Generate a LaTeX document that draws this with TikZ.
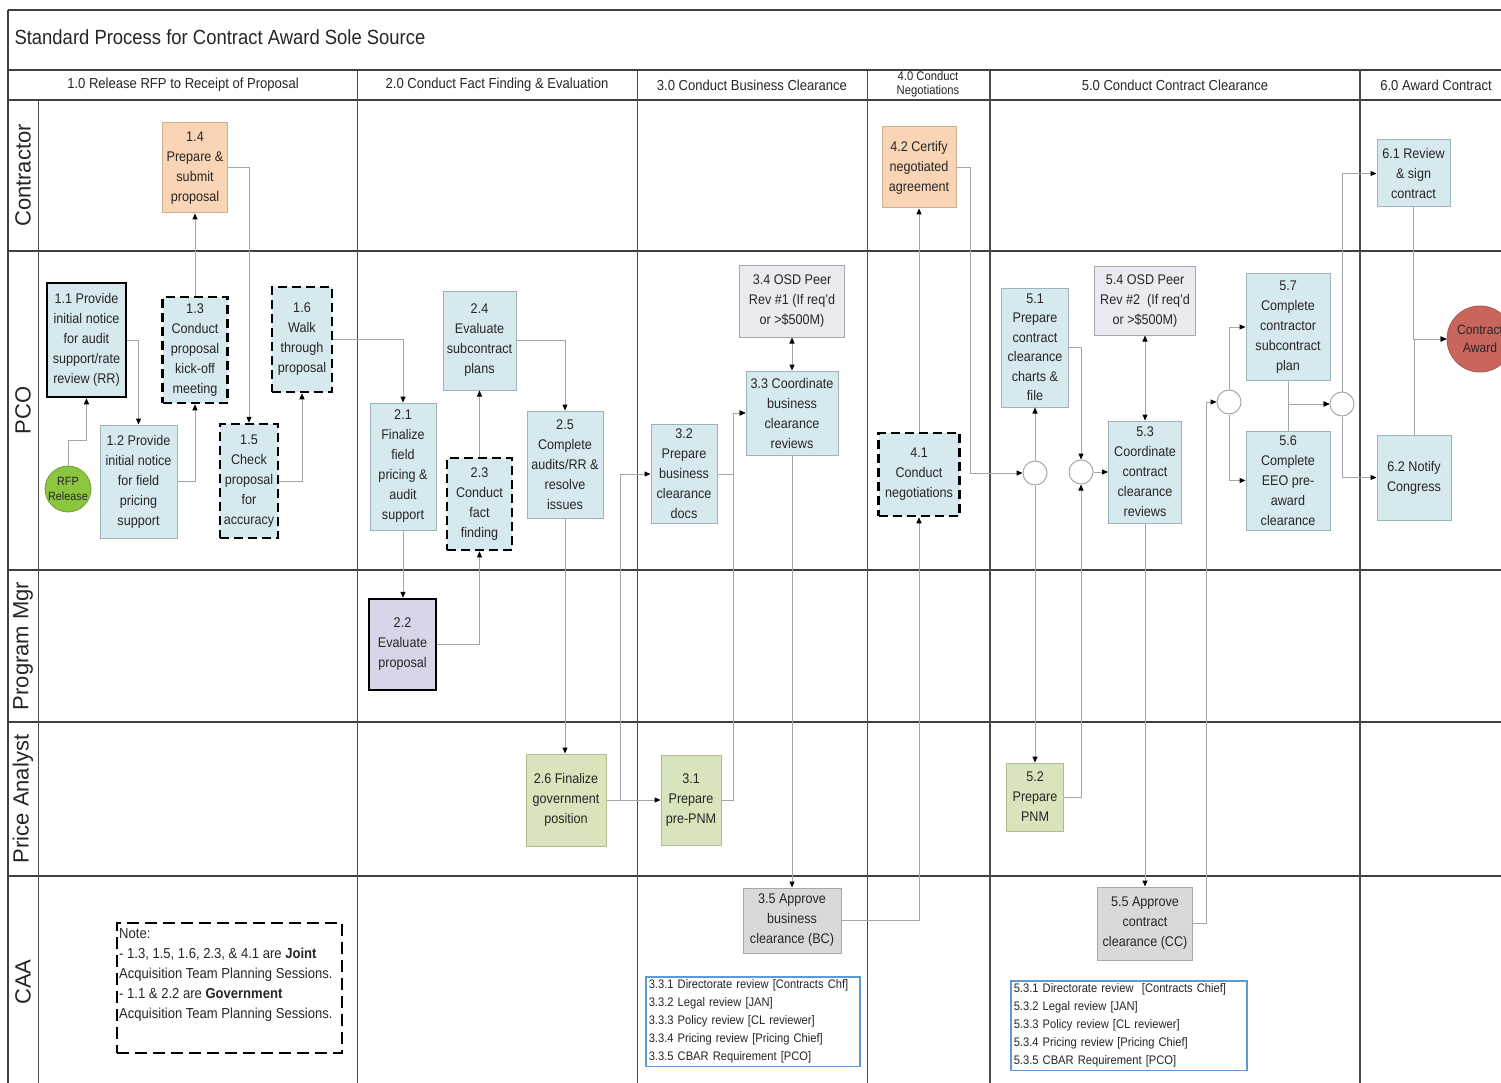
\documentclass[tikz,border=0pt]{standalone}
\usepackage{fontspec}
\setmainfont[FakeStretch=0.9]{Liberation Sans}
\newfontfamily\lanefont{Liberation Sans}
\usetikzlibrary{arrows.meta}
\definecolor{cblue}{HTML}{D6E9EF}
\definecolor{cblueb}{HTML}{9DB4BC}
\definecolor{corange}{HTML}{F9D4B5}
\definecolor{corangeb}{HTML}{D0AE90}
\definecolor{cgreen}{HTML}{D8E4BC}
\definecolor{cgreenb}{HTML}{AEBC90}
\definecolor{clav}{HTML}{DAD4E8}
\definecolor{cpeer}{HTML}{E9EBF1}
\definecolor{cgrayb}{HTML}{A8A8A8}
\definecolor{capprove}{HTML}{D9D9D9}
\definecolor{crfp}{HTML}{8CC63F}
\definecolor{caward}{HTML}{C9665C}
\definecolor{cline}{HTML}{A6A6A6}
\definecolor{clist}{HTML}{5B9BD5}
\definecolor{ctext}{HTML}{262626}
\newcommand\boxfont{\fontsize{14}{20}\selectfont}
\newcommand\listfont{\fontsize{12.4}{18}\selectfont}
\tikzset{
  sz/.style 2 args={minimum width=#1pt, minimum height=#2pt},
  base/.style={rectangle, align=center, font=\boxfont, inner sep=0.5pt, text=ctext},
  bluebox/.style={base, fill=cblue, draw=cblueb, line width=1pt},
  thickbox/.style={base, fill=cblue, draw=black, line width=2.5pt},
  dashbox/.style={base, fill=cblue, draw=black, line width=2.5pt, dash pattern=on 9pt off 5pt},
  orangebox/.style={base, fill=corange, draw=corangeb, line width=1pt},
  greenbox/.style={base, fill=cgreen, draw=cgreenb, line width=1pt},
  lavbox/.style={base, fill=clav, draw=black, line width=2.5pt},
  peerbox/.style={base, fill=cpeer, draw=cgrayb, line width=1pt},
  approvebox/.style={base, fill=capprove, draw=cgrayb, line width=1pt},
  gate/.style={circle, draw=cgrayb, fill=white, minimum size=24pt, inner sep=0pt, line width=1pt},
  listbox/.style={rectangle, draw=clist, fill=white, line width=1.5pt, align=left, font=\listfont, text=ctext, inner sep=3pt, anchor=north west},
  conn/.style={draw=cline, line width=1pt, -{Triangle[length=6pt,width=5pt,color=black]}},
  bidir/.style={draw=cline, line width=1pt, {Triangle[length=6pt,width=5pt,color=black]}-{Triangle[length=6pt,width=5pt,color=black]}},
  lanerule/.style={draw=black!75, line width=1.6pt},
  colrule/.style={draw=black!70, line width=1pt},
  lanelbl/.style={rotate=90, font=\lanefont\fontsize{22}{24}\selectfont, text=ctext},
  hdr/.style={font=\fontsize{14.5}{16}\selectfont, text=ctext},
}
\begin{document}
\begin{tikzpicture}[x=1pt,y=-1pt]
\useasboundingbox (0,0) rectangle (1501,1083);
\clip (0,0) rectangle (1501,1083);
\fill[white] (0,0) rectangle (1501,1083);
% ---------- grid ----------
\draw[lanerule] (8,10) -- (1510,10);
\draw[lanerule] (8,10) -- (8,1090);
\draw[lanerule] (8,70) -- (1510,70);
\draw[lanerule] (8,100) -- (1510,100);
\foreach \yy in {251,570,722,876} \draw[lanerule] (8,\yy) -- (1510,\yy);
\draw[colrule] (38,100) -- (38,1090);
\foreach \xx in {357,637,867} \draw[colrule] (\xx,70) -- (\xx,1090);
\foreach \xx in {990,1360} \draw[colrule, line width=1.5pt] (\xx,70) -- (\xx,1090);
% ---------- title and headers ----------
\node[anchor=west, font=\fontsize{20.5}{24}\selectfont, text=ctext] (title) at (11,37) {Standard Process for Contract Award Sole Source};
\node[hdr] (h1) at (183,85) {1.0 Release RFP to Receipt of Proposal};
\node[hdr] (h2) at (497,85) {2.0 Conduct Fact Finding \& Evaluation};
\node[hdr] (h3) at (752,85) {3.0 Conduct Business Clearance};
\node[hdr, font=\fontsize{12.5}{14}\selectfont, align=center] (h4) at (928,84) {4.0 Conduct\\Negotiations};
\node[hdr] (h5) at (1175,85) {5.0 Conduct Contract Clearance};
\node[hdr] (h6) at (1436,85) {6.0 Award Contract};
% ---------- lane labels ----------
\node[lanelbl] (l1) at (23,175.5) {Contractor};
\node[lanelbl] (l2) at (23,410.5) {PCO};
\node[lanelbl] (l3) at (23,646) {Program Mgr};
\node[lanelbl] (l4) at (23,799) {Price Analyst};
\node[lanelbl] (l5) at (23,982) {CAA};
% ---------- phase 1 ----------
\node[circle, fill=crfp, draw=crfp!80!black, line width=0.8pt, minimum size=44pt, inner sep=0pt, align=center, font=\fontsize{12}{15}\selectfont, text=ctext] (rfp) at (68,489) {RFP\\Release};
\node[thickbox, sz={79}{114}] (n11) at (86.5,340) {1.1 Provide\\initial notice\\for audit\\support/rate\\review (RR)};
\node[bluebox, sz={77}{113}] (n12) at (138.5,481.5) {1.2 Provide\\initial notice\\for field\\pricing\\support};
\node[dashbox, sz={65}{106}] (n13) at (195,350) {1.3\\Conduct\\proposal\\kick-off\\meeting};
\node[orangebox, sz={65}{90}] (n14) at (195,168) {1.4\\Prepare \&\\submit\\proposal};
\node[dashbox, sz={58}{114}] (n15) at (249,481) {1.5\\Check\\proposal\\for\\accuracy};
\node[dashbox, sz={60}{105}] (n16) at (302,339.5) {1.6\\Walk\\through\\proposal};
% ---------- phase 2 ----------
\node[bluebox, sz={66}{127}] (n21) at (403,466.5) {2.1\\Finalize\\field\\pricing \&\\audit\\support};
\node[lavbox, sz={67}{91}] (n22) at (402.5,644.5) {2.2\\Evaluate\\proposal};
\node[dashbox, sz={65}{92}] (n23) at (479.5,504) {2.3\\Conduct\\fact\\finding};
\node[bluebox, sz={73}{99}] (n24) at (479.5,340.5) {2.4\\Evaluate\\subcontract\\plans};
\node[bluebox, sz={76}{107}] (n25) at (565,464.5) {2.5\\Complete\\audits/RR \&\\resolve\\issues};
\node[greenbox, sz={80}{92}] (n26) at (566,800) {2.6 Finalize\\government\\position};
% ---------- phase 3 ----------
\node[greenbox, sz={60}{90}] (n31) at (691,800) {3.1\\Prepare\\pre-PNM};
\node[bluebox, sz={66}{99}] (n32) at (684,474) {3.2\\Prepare\\business\\clearance\\docs};
\node[bluebox, sz={92}{84}] (n33) at (792,413) {3.3 Coordinate\\business\\clearance\\reviews};
\node[peerbox, sz={105}{71}] (n34) at (792,301.5) {3.4 OSD Peer\\Rev \#1 (If req'd\\or >\$500M)};
\node[approvebox, sz={98}{65}] (n35) at (792,920.5) {3.5 Approve\\business\\clearance (BC)};
\node[listbox, text width=208pt] (list3) at (645,976) {3.3.1 Directorate review [Contracts Chf]\\3.3.2 Legal review [JAN]\\3.3.3 Policy review [CL reviewer]\\3.3.4 Pricing review [Pricing Chief]\\3.3.5 CBAR Requirement [PCO]};
% ---------- phase 4 ----------
\node[orangebox, sz={74}{81}] (n42) at (919,167.5) {4.2 Certify\\negotiated\\agreement};
\node[dashbox, sz={81}{83}] (n41) at (919,474.5) {4.1\\Conduct\\negotiations};
% ---------- phase 5 ----------
\node[gate] (g1) at (1035,473) {};
\node[gate] (g2) at (1081,472) {};
\node[gate] (g3) at (1229,402) {};
\node[gate] (g4) at (1342,404) {};
\node[bluebox, sz={67}{119}, font=\fontsize{14}{19.5}\selectfont] (n51) at (1035,347.5) {5.1\\Prepare\\contract\\clearance\\charts \&\\file};
\node[greenbox, sz={57}{68}] (n52) at (1035,797) {5.2\\Prepare\\PNM};
\node[bluebox, sz={73}{102}] (n53) at (1145,472) {5.3\\Coordinate\\contract\\clearance\\reviews};
\node[peerbox, sz={101}{68}] (n54) at (1145,301) {5.4 OSD Peer\\Rev \#2~ (If req'd\\or >\$500M)};
\node[approvebox, sz={95}{73}] (n55) at (1145,923.5) {5.5 Approve\\contract\\clearance (CC)};
\node[listbox, text width=230pt] (list5) at (1010,980) {5.3.1 Directorate review~ [Contracts Chief]\\5.3.2 Legal review [JAN]\\5.3.3 Policy review [CL reviewer]\\5.3.4 Pricing review [Pricing Chief]\\5.3.5 CBAR Requirement [PCO]};
\node[bluebox, sz={84}{106}] (n57) at (1288,327) {5.7\\Complete\\contractor\\subcontract\\plan};
\node[bluebox, sz={84}{99}] (n56) at (1288,480.5) {5.6\\Complete\\EEO pre-\\award\\clearance};
% ---------- phase 6 ----------
\node[bluebox, sz={73}{67}] (n61) at (1413.5,173.5) {6.1 Review\\\& sign\\contract};
\node[bluebox, sz={74}{85}] (n62) at (1414,477.5) {6.2 Notify\\Congress};
\node[circle, fill=caward, draw=caward!85!black, line width=0.8pt, minimum size=66pt, inner sep=0pt, align=center, font=\fontsize{13.5}{18}\selectfont, text=ctext] (ca) at (1480,339) {Contract\\Award};
% ---------- note ----------
\node[draw=black, line width=2pt, dash pattern=on 12pt off 6pt, fill=white, sz={225}{130}, anchor=north west] (note) at (116,922) {};
\node[anchor=north west, align=left, font=\fontsize{14.5}{20}\selectfont, text=ctext, inner sep=1pt] (notetext) at (118,927) {Note:\\- 1.3, 1.5, 1.6, 2.3, \& 4.1 are \textbf{Joint}\\Acquisition Team Planning Sessions.\\- 1.1 \& 2.2 are \textbf{Government}\\Acquisition Team Planning Sessions.};
% ---------- connectors ----------
\draw[conn] (rfp.north) -- ++(0,-25) -| (n11.south);
\draw[conn] (n11.east) -| (n12.north);
\draw[conn] (n12.east) -| (n13.south);
\draw[conn] (n13.north) -- (n14.south);
\draw[conn] (n14.east) -| (n15.north);
\draw[conn] (n15.east) -| (n16.south);
\draw[conn] (n16.east) -| (n21.north);
\draw[conn] (n21.south) -- (n21.south |- n22.north);
\draw[conn] (n22.east) -| (n23.south);
\draw[conn] (n23.north) -- (n24.south);
\draw[conn] (n24.east) -| (n25.north);
\draw[conn] (n25.south) -- (n25.south |- n26.north);
\draw[conn] (n26.east) -- (n31.west);
\draw[conn] (n26.east) -- ++(14,0) |- (n32.west);
\draw[conn] (n31.east) -- ++(12,0) |- (n33.west);
\draw[conn] (n32.east) -- ++(16,0) |- (n33.west);
\draw[bidir] (n33.north) -- (n34.south);
\draw[conn] (n33.south) -- (n35.north);
\draw[conn] (n35.east) -| (n41.south);
\draw[conn] (n41.north) -- (n42.south);
\draw[conn] (n42.east) -- ++(14,0) |- (g1.west);
\draw[conn] (g1.north) -- (n51.south);
\draw[conn] (g1.south) -- (n52.north);
\draw[conn] (n51.east) -| (g2.north);
\draw[conn] (n52.east) -| (g2.south);
\draw[conn] (g2.east) -- (n53.west);
\draw[bidir] (n53.north) -- (n54.south);
\draw[conn] (n53.south) -- (n55.north);
\draw[conn] (n55.east) -- ++(13,0) |- (g3.west);
\draw[conn] (g3.north) |- (n57.west);
\draw[conn] (g3.south) |- (n56.west);
\draw[conn] (n57.south) |- (g4.west);
\draw[conn] (n56.north) |- (g4.west);
\draw[conn] (g4.north) |- (n61.west);
\draw[conn] (g4.south) |- (n62.west);
\draw[conn] (n61.south) |- (ca.west);
\draw[conn] (n62.north) |- (ca.west);
\end{tikzpicture}
\end{document}
